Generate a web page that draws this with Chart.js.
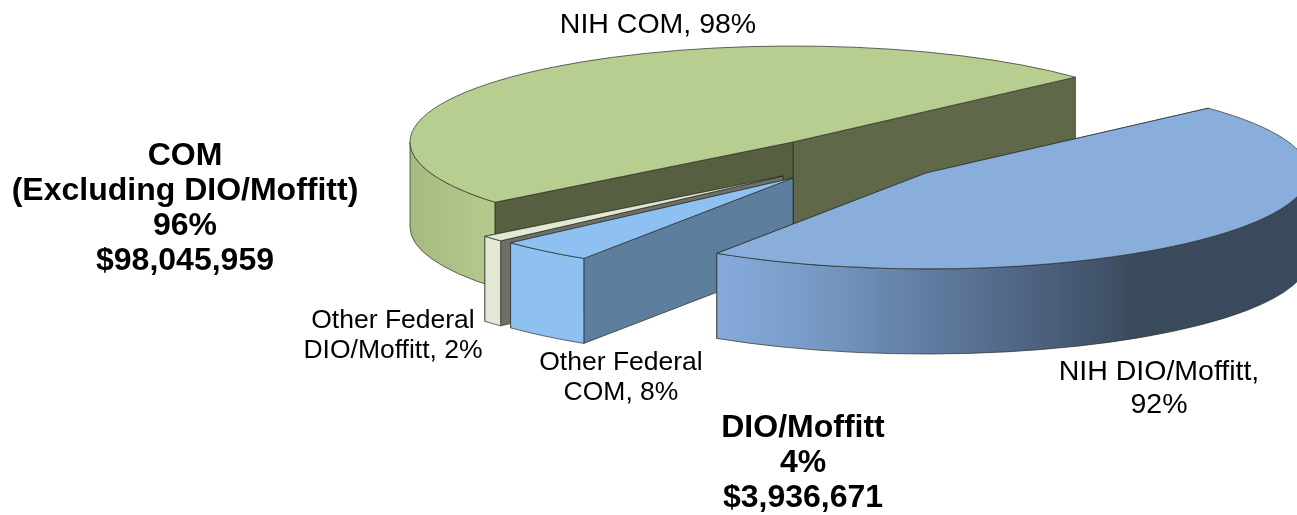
<!DOCTYPE html>
<html>
<head>
<meta charset="utf-8">
<script src="https://cdn.jsdelivr.net/npm/chart.js@4"></script>
<style>
  html, body { margin: 0; padding: 0; background: #fff; overflow: hidden; }
  canvas { display: block; }
</style>
</head>
<body>
<canvas id="pie-chart" width="1297" height="515"></canvas>
<script>
// Data
var categories = ['NIH DIO/Moffitt', 'Other Federal COM', 'Other Federal DIO/Moffitt', 'NIH COM'];
var shares = [92, 8, 2, 98];

// Labels: text lines per block
var sliceLabels = [
    ['NIH COM, 98%'],
    ['Other Federal', 'DIO/Moffitt, 2%'],
    ['Other Federal', 'COM, 8%'],
    ['NIH DIO/Moffitt,', '92%']
];
var groupLabels = [
    ['COM', '(Excluding DIO/Moffitt)', '96%', '$98,045,959'],
    ['DIO/Moffitt', '4%', '$3,936,671']
];

// Look of the 3D pie
var topColors = ['#8aaedb', '#8fc0f2', '#e3e8d5', '#b8cd90'];
var startFaces = ['#5f7f9f', '#5e7e9e', '#6e7068', '#565f3f'];
var endFaces = ['#5f7f9f', '#5e7e9e', '#6e7068', '#5f6849'];
var sliceShift = [[133, 31], [0, 36], [-10, 34], [0, 0]];
var pieCentre = [793, 142];
var radiusX = 383, radiusY = 96, depth = 85;
var lineColor = 'rgba(40,45,40,0.7)';

function wallFill(ctx, i) {
    var g;
    if (i === 0) {
        g = ctx.createLinearGradient(716, 0, 1297, 0);
        g.addColorStop(0, '#86abdb');
        g.addColorStop(0.15, '#7a9cc8');
        g.addColorStop(0.38, '#5f7a9e');
        g.addColorStop(0.6, '#485b76');
        g.addColorStop(0.72, '#3b4b5e');
        g.addColorStop(1, '#3a4a5c');
        return g;
    }
    if (i === 3) {
        g = ctx.createLinearGradient(410, 0, 497, 0);
        g.addColorStop(0, '#a6ba80');
        g.addColorStop(1, '#b6ca8e');
        return g;
    }
    return topColors[i];
}

// back of the pie is further away, so its edge looks shorter
function rimDepth(dy) {
    return dy < 0 ? depth + dy * 0.3 : depth;
}

function drawFace(ctx, cx, cy, angle, color) {
    var dx = Math.cos(angle) * radiusX, dy = Math.sin(angle) * radiusY;
    ctx.beginPath();
    ctx.moveTo(cx, cy);
    ctx.lineTo(cx + dx, cy + dy);
    ctx.lineTo(cx + dx, cy + dy + rimDepth(dy));
    ctx.lineTo(cx, cy + depth);
    ctx.closePath();
    ctx.fillStyle = color;
    ctx.fill();
    ctx.strokeStyle = lineColor;
    ctx.lineWidth = 1;
    ctx.stroke();
}

function drawWall(ctx, cx, cy, start, end, i) {
    var a0 = Math.max(start, 0), a1 = Math.min(end, Math.PI);
    if (a1 <= a0) return;
    ctx.beginPath();
    ctx.ellipse(cx, cy, radiusX, radiusY, 0, a0, a1);
    ctx.ellipse(cx, cy + depth, radiusX, radiusY, 0, a1, a0, true);
    ctx.closePath();
    ctx.fillStyle = wallFill(ctx, i);
    ctx.fill();
    ctx.strokeStyle = lineColor;
    ctx.lineWidth = 1;
    ctx.stroke();
}

function drawLines(ctx, lines, x, y, step) {
    lines.forEach(function (line, n) {
        ctx.fillText(line, x, y + n * step);
    });
}

var pie3d = {
    id: 'pie3d',
    beforeDatasetsDraw: function (chart) {
        var ctx = chart.ctx;
        var arcs = chart.getDatasetMeta(0).data;
        // green goes first, the pulled out slices sit in front of it
        [3, 2, 1, 0].forEach(function (i) {
            var arc = arcs[i];
            var cx = pieCentre[0] + sliceShift[i][0];
            var cy = pieCentre[1] + sliceShift[i][1];
            drawFace(ctx, cx, cy, arc.endAngle, endFaces[i]);
            drawFace(ctx, cx, cy, arc.startAngle, startFaces[i]);
            drawWall(ctx, cx, cy, arc.startAngle, arc.endAngle, i);

            // top of the slice is the library's own arc, squashed
            ctx.save();
            ctx.translate(cx, cy);
            ctx.scale(radiusX / arc.outerRadius, radiusY / arc.outerRadius);
            ctx.translate(-arc.x, -arc.y);
            arc.draw(ctx);
            ctx.restore();

            ctx.beginPath();
            ctx.moveTo(cx, cy);
            ctx.ellipse(cx, cy, radiusX, radiusY, 0, arc.startAngle, arc.endAngle);
            ctx.closePath();
            ctx.strokeStyle = lineColor;
            ctx.lineWidth = 1;
            ctx.stroke();
        });
        return false;
    },
    afterDraw: function (chart) {
        var ctx = chart.ctx;
        ctx.save();
        ctx.fillStyle = '#000';
        ctx.textAlign = 'center';
        ctx.textBaseline = 'middle';

        ctx.font = '28.5px "Liberation Sans", Arial, sans-serif';
        drawLines(ctx, sliceLabels[0], 658, 25, 33);
        drawLines(ctx, sliceLabels[3], 1159, 372, 33);

        ctx.font = '26.5px "Liberation Sans", Arial, sans-serif';
        drawLines(ctx, sliceLabels[1], 393, 321, 30);
        drawLines(ctx, sliceLabels[2], 621, 363, 30);

        ctx.font = 'bold 32px "Liberation Sans", Arial, sans-serif';
        drawLines(ctx, groupLabels[0], 185, 156, 35);
        drawLines(ctx, groupLabels[1], 803, 428, 35);
        ctx.restore();
    }
};

var pieChart = new Chart(document.getElementById('pie-chart'), {
    type: 'pie',
    data: {
        labels: categories,
        datasets: [{
            data: shares,
            backgroundColor: topColors,
            borderWidth: 0
        }]
    },
    options: {
        responsive: false,
        animation: false,
        rotation: 47.5,
        plugins: {
            legend: { display: false },
            tooltip: { enabled: false }
        }
    },
    plugins: [pie3d]
});
</script>
</body>
</html>
